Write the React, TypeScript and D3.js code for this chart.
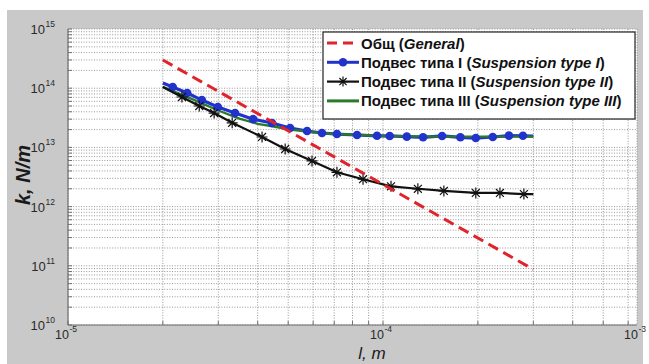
import React from "react";
import * as d3 from "d3";

// ---- data ----
const generalL = [2.0e-5, 3.0e-4];
const generalK = [3.0e14, 8.7e10];

const type1L = [2.0e-5, 2.15e-5, 2.39e-5, 2.66e-5, 2.99e-5, 3.39e-5, 3.87e-5, 4.44e-5, 5.07e-5, 5.74e-5, 6.4e-5, 7.14e-5, 8.27e-5, 9.57e-5, 1.05e-4, 1.19e-4, 1.34e-4, 1.54e-4, 1.76e-4, 1.97e-4, 2.23e-4, 2.51e-4, 2.78e-4, 3.0e-4];
const type1K = [1.22e14, 1.05e14, 8.3e13, 6.3e13, 4.8e13, 3.8e13, 3.0e13, 2.58e13, 2.13e13, 1.89e13, 1.75e13, 1.68e13, 1.62e13, 1.57e13, 1.56e13, 1.52e13, 1.48e13, 1.56e13, 1.48e13, 1.44e13, 1.5e13, 1.58e13, 1.57e13, 1.55e13];

const type2L = [2.0e-5, 2.3e-5, 2.61e-5, 2.91e-5, 3.32e-5, 4.13e-5, 4.89e-5, 5.95e-5, 7.14e-5, 8.64e-5, 1.06e-4, 1.29e-4, 1.56e-4, 1.97e-4, 2.35e-4, 2.8e-4, 3.0e-4];
const type2K = [1.05e14, 7.1e13, 5.0e13, 3.8e13, 2.6e13, 1.5e13, 9.4e12, 5.9e12, 3.8e12, 2.9e12, 2.2e12, 2.0e12, 1.84e12, 1.7e12, 1.7e12, 1.63e12, 1.63e12];

const type3L = [2.0e-5, 2.5e-5, 3.0e-5, 3.5e-5, 4.0e-5, 4.5e-5, 5.0e-5, 6.0e-5, 7.0e-5, 8.5e-5, 1.0e-4, 1.5e-4, 2.0e-4, 3.0e-4];
const type3K = [1.05e14, 6.4e13, 4.2e13, 3.05e13, 2.5e13, 2.25e13, 2.02e13, 1.8e13, 1.68e13, 1.62e13, 1.56e13, 1.52e13, 1.52e13, 1.52e13];

const xTickExps = [-5, -4, -3];
const yTickExps = [10, 11, 12, 13, 14, 15];

const legendLabels: [string, string, string][] = [
  ["Общ (", "General", ")"],
  ["Подвес типа I (", "Suspension type I", ")"],
  ["Подвес типа II (", "Suspension type II", ")"],
  ["Подвес типа III (", "Suspension type III", ")"],
];

const FONT = "'Liberation Sans', Arial, sans-serif";
const RED = "#e0242c";
const BLUE = "#2233cc";
const BLACK = "#111111";
const GREEN = "#2a7a2a";

function asterisk(cx: number, cy: number, r: number) {
  const d = r * 0.72;
  return `M${cx - r},${cy}L${cx + r},${cy}M${cx},${cy - r}L${cx},${cy + r}M${cx - d},${cy - d}L${cx + d},${cy + d}M${cx - d},${cy + d}L${cx + d},${cy - d}`;
}

export default function App() {
  const x = d3.scaleLog().domain([1e-5, 6.4e-4]).range([68, 637]);
  const y = d3.scaleLog().domain([1e10, 1e15]).range([325, 29]);
  const [x0, x1] = x.range();
  const [y0, y1] = y.range();

  const line = d3
    .line<[number, number]>()
    .x((d) => x(d[0]))
    .y((d) => y(d[1]));
  const zip = (a: number[], b: number[]) => a.map((v, i) => [v, b[i]] as [number, number]);

  const xGrid: number[] = [];
  for (let n = -5; n <= -4; n++) for (let k = 1; k <= 9; k++) {
    const v = k * Math.pow(10, n);
    if (v <= 6.4e-4) xGrid.push(v);
  }
  const yGrid: number[] = [];
  for (let n = 10; n <= 14; n++) for (let k = 1; k <= 9; k++) yGrid.push(k * Math.pow(10, n));
  yGrid.push(1e15);

  const lx = 327, ly = 43, lstep = 19.3;
  const GRID = "#8c8c8c";

  return (
    <svg width={649} height={364} style={{ position: "absolute", left: 0, top: 0 }} fontFamily={FONT}>
      <rect x={0} y={0} width={649} height={364} fill="#ffffff" />
      <rect x={7} y={10} width={636} height={354} fill="#c9c9c9" />
      <rect x={x0} y={y1} width={x1 - x0} height={y0 - y1} fill="#ffffff" />

      {/* grid */}
      {xGrid.map((v, i) => (
        <g key={"xg" + i}>
          <line x1={x(v)} x2={x(v)} y1={y1} y2={y0} stroke={GRID} strokeWidth={0.9} strokeDasharray="1,1.6" />
          <line x1={x(v)} x2={x(v)} y1={y0} y2={y0 - 4} stroke="#666" strokeWidth={0.9} />
        </g>
      ))}
      {yGrid.map((v, i) => (
        <g key={"yg" + i}>
          <line x1={x0} x2={x1} y1={y(v)} y2={y(v)} stroke={GRID} strokeWidth={0.9} strokeDasharray="1,1.6" />
          <line x1={x0} x2={x0 + 4} y1={y(v)} y2={y(v)} stroke="#666" strokeWidth={0.9} />
        </g>
      ))}
      <line x1={x1} x2={x1} y1={y1} y2={y0} stroke={GRID} strokeWidth={0.9} strokeDasharray="1,1.6" />
      <line x1={x0} x2={x0} y1={y1} y2={y0} stroke="#707070" strokeWidth={1.2} />
      <line x1={x0} x2={x1} y1={y0} y2={y0} stroke="#707070" strokeWidth={1.2} />

      {/* tick labels */}
      {yTickExps.map((e) => (
        <text key={"yt" + e} x={55} y={y(Math.pow(10, e)) + 5} fontSize={13} fill="#2a2a2a" textAnchor="end">
          10
          <tspan fontSize={8.5} dx={0.5} dy={-7}>{e}</tspan>
        </text>
      ))}
      {xTickExps.map((e) => (
        <text key={"xt" + e} x={Math.min(x(Math.pow(10, e)), x1) - 2} y={339} fontSize={12.5} fill="#2a2a2a" textAnchor="middle">
          10
          <tspan fontSize={8.5} dx={0.5} dy={-7}>{e}</tspan>
        </text>
      ))}

      {/* axis labels */}
      <text transform="translate(30,175) rotate(-90)" textAnchor="middle" fontSize={20} fontWeight="bold" fontStyle="italic" fill="#1a1a1a">
        k, N/m
      </text>
      <text x={372} y={359} textAnchor="middle" fontSize={17} fontStyle="italic" fill="#1a1a1a">
        l, m
      </text>

      {/* series */}
      <path d={line(zip(type1L, type1K)) || ""} fill="none" stroke={BLUE} strokeWidth={3.2} />
      <path d={line(zip(type3L, type3K)) || ""} fill="none" stroke={GREEN} strokeWidth={2.4} />
      {type1L.slice(1, -1).map((v, i) => (
        <circle key={"b" + i} cx={x(v)} cy={y(type1K[i + 1])} r={4.3} fill={BLUE} />
      ))}
      <path d={line(zip(type2L, type2K)) || ""} fill="none" stroke={BLACK} strokeWidth={2.2} />
      {type2L.slice(1, -1).map((v, i) => (
        <path key={"k" + i} d={asterisk(x(v), y(type2K[i + 1]), 5.5)} stroke={BLACK} strokeWidth={1.2} fill="none" />
      ))}
      <path d={line(zip(generalL, generalK)) || ""} fill="none" stroke={RED} strokeWidth={3} strokeDasharray="11,6" />

      {/* legend */}
      <rect x={323} y={32} width={312} height={87} fill="#ffffff" stroke="#222" strokeWidth={1.2} />
      {legendLabels.map((lab, i) => {
        const cy = ly + i * lstep;
        return (
          <g key={"lg" + i}>
            {i === 0 && <line x1={lx} x2={lx + 32} y1={cy} y2={cy} stroke={RED} strokeWidth={3} strokeDasharray="10,6" />}
            {i === 1 && (
              <g>
                <line x1={lx} x2={lx + 32} y1={cy} y2={cy} stroke={BLUE} strokeWidth={3} />
                <circle cx={lx + 16} cy={cy} r={4.3} fill={BLUE} />
              </g>
            )}
            {i === 2 && (
              <g>
                <line x1={lx} x2={lx + 32} y1={cy} y2={cy} stroke={BLACK} strokeWidth={2.2} />
                <path d={asterisk(lx + 16, cy, 5)} stroke={BLACK} strokeWidth={1.2} fill="none" />
              </g>
            )}
            {i === 3 && <line x1={lx} x2={lx + 32} y1={cy} y2={cy} stroke={GREEN} strokeWidth={3} />}
            <text x={lx + 34} y={cy + 5.5} fontSize={15} fontWeight="bold" fill="#111">
              {lab[0]}
              <tspan fontStyle="italic">{lab[1]}</tspan>
              {lab[2]}
            </text>
          </g>
        );
      })}
    </svg>
  );
}
